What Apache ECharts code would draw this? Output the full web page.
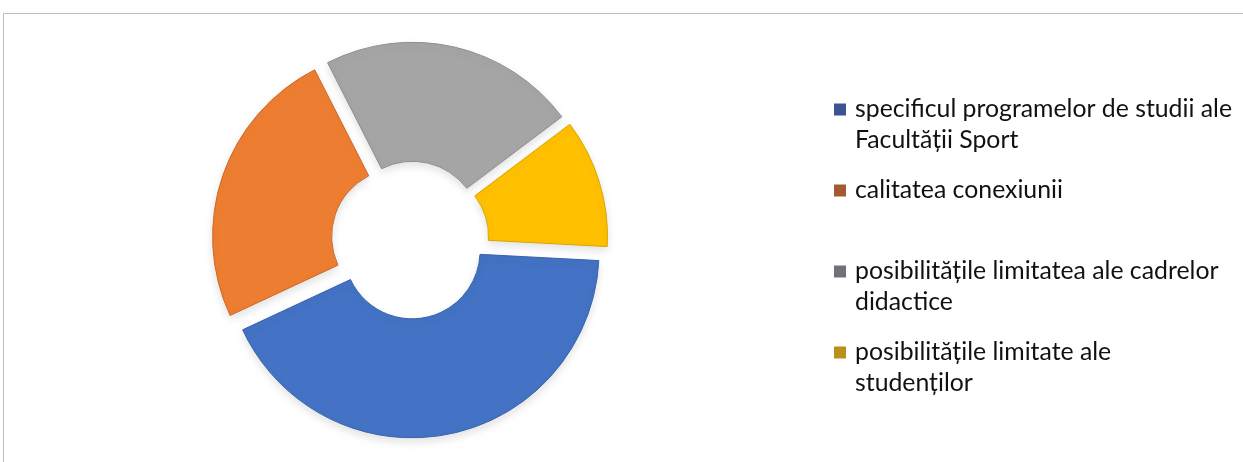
<!DOCTYPE html>
<html>
<head>
<meta charset="utf-8">
<script src="https://cdn.jsdelivr.net/npm/echarts@6/dist/echarts.min.js"></script>
<style>
  html, body { margin: 0; padding: 0; background: #fff; }
  #wrap { position: relative; width: 1243px; height: 462px; }
  #frame {
    position: absolute; left: 3px; top: 13px; right: 0; bottom: 0;
    border-left: 1px solid #bfbfbf; border-top: 1px solid #bfbfbf;
  }
  #chart { position: absolute; left: 0; top: 0; width: 1243px; height: 462px; }
</style>
</head>
<body>
<div id="wrap">
  <div id="frame"></div>
  <div id="chart"></div>
</div>
<script>
// categories (legend order) and respondent counts
const categories = [
  "specificul programelor de studii ale Facultății Sport",
  "calitatea conexiunii",
  "posibilitățile limitatea ale cadrelor didactice",
  "posibilitățile limitate ale studenților"
];
// how each legend entry wraps (every entry kept two lines tall)
const legendLabels = [
  "specificul programelor de studii ale\nFacultății Sport",
  "calitatea conexiunii\n ",
  "posibilitățile limitatea ale cadrelor\ndidactice",
  "posibilitățile limitate ale\nstudenților"
];
const values = [19, 11, 10, 5];
const sliceColors = ["#4472C4", "#ED7D31", "#A5A5A5", "#FFC000"];
const sliceEdges = ["#3A63AE", "#C9692A", "#8E8E8E", "#D9A400"];
const keyColors = ["#3B5491", "#A35A30", "#707277", "#B8901A"];

const chart = echarts.init(document.getElementById("chart"));

// square key sitting level with the first text line of a two-line box
const keyIcon = "path://M0,0L0,0M16,62L16,62M0,9.5h12v12h-12z";

const option = {
  animation: false,
  legend: {
    orient: "vertical",
    left: 829,
    top: 89,
    itemWidth: 16,
    itemHeight: 62,
    itemGap: 19,
    icon: keyIcon,
    itemStyle: { borderWidth: 0 },
    data: categories.map((name, i) => ({
      name: name,
      itemStyle: { color: keyColors[i], borderWidth: 0 },
    })),
    formatter: (name) => legendLabels[categories.indexOf(name)],
    textStyle: {
      fontFamily: "Lato",
      fontSize: 24.8,
      lineHeight: 31,
      color: "#111",
    },
    selectedMode: false,
  },
  series: [
    {
      type: "pie",
      center: [410, 240],
      radius: [68, 187],
      startAngle: -3,
      clockwise: true,
      selectedMode: "multiple",
      selectedOffset: 11,
      label: { show: false },
      labelLine: { show: false },
      emphasis: { disabled: true },
      data: categories.map((name, i) => ({
        name: name,
        value: values[i],
        selected: true,
        itemStyle: {
          color: sliceColors[i],
          borderColor: sliceEdges[i],
          borderWidth: 1,
          shadowBlur: 10,
          shadowColor: "rgba(0,0,0,0.12)",
          shadowOffsetY: 4,
        },
      })),
    },
  ],
};
chart.setOption(option);
</script>
</body>
</html>
